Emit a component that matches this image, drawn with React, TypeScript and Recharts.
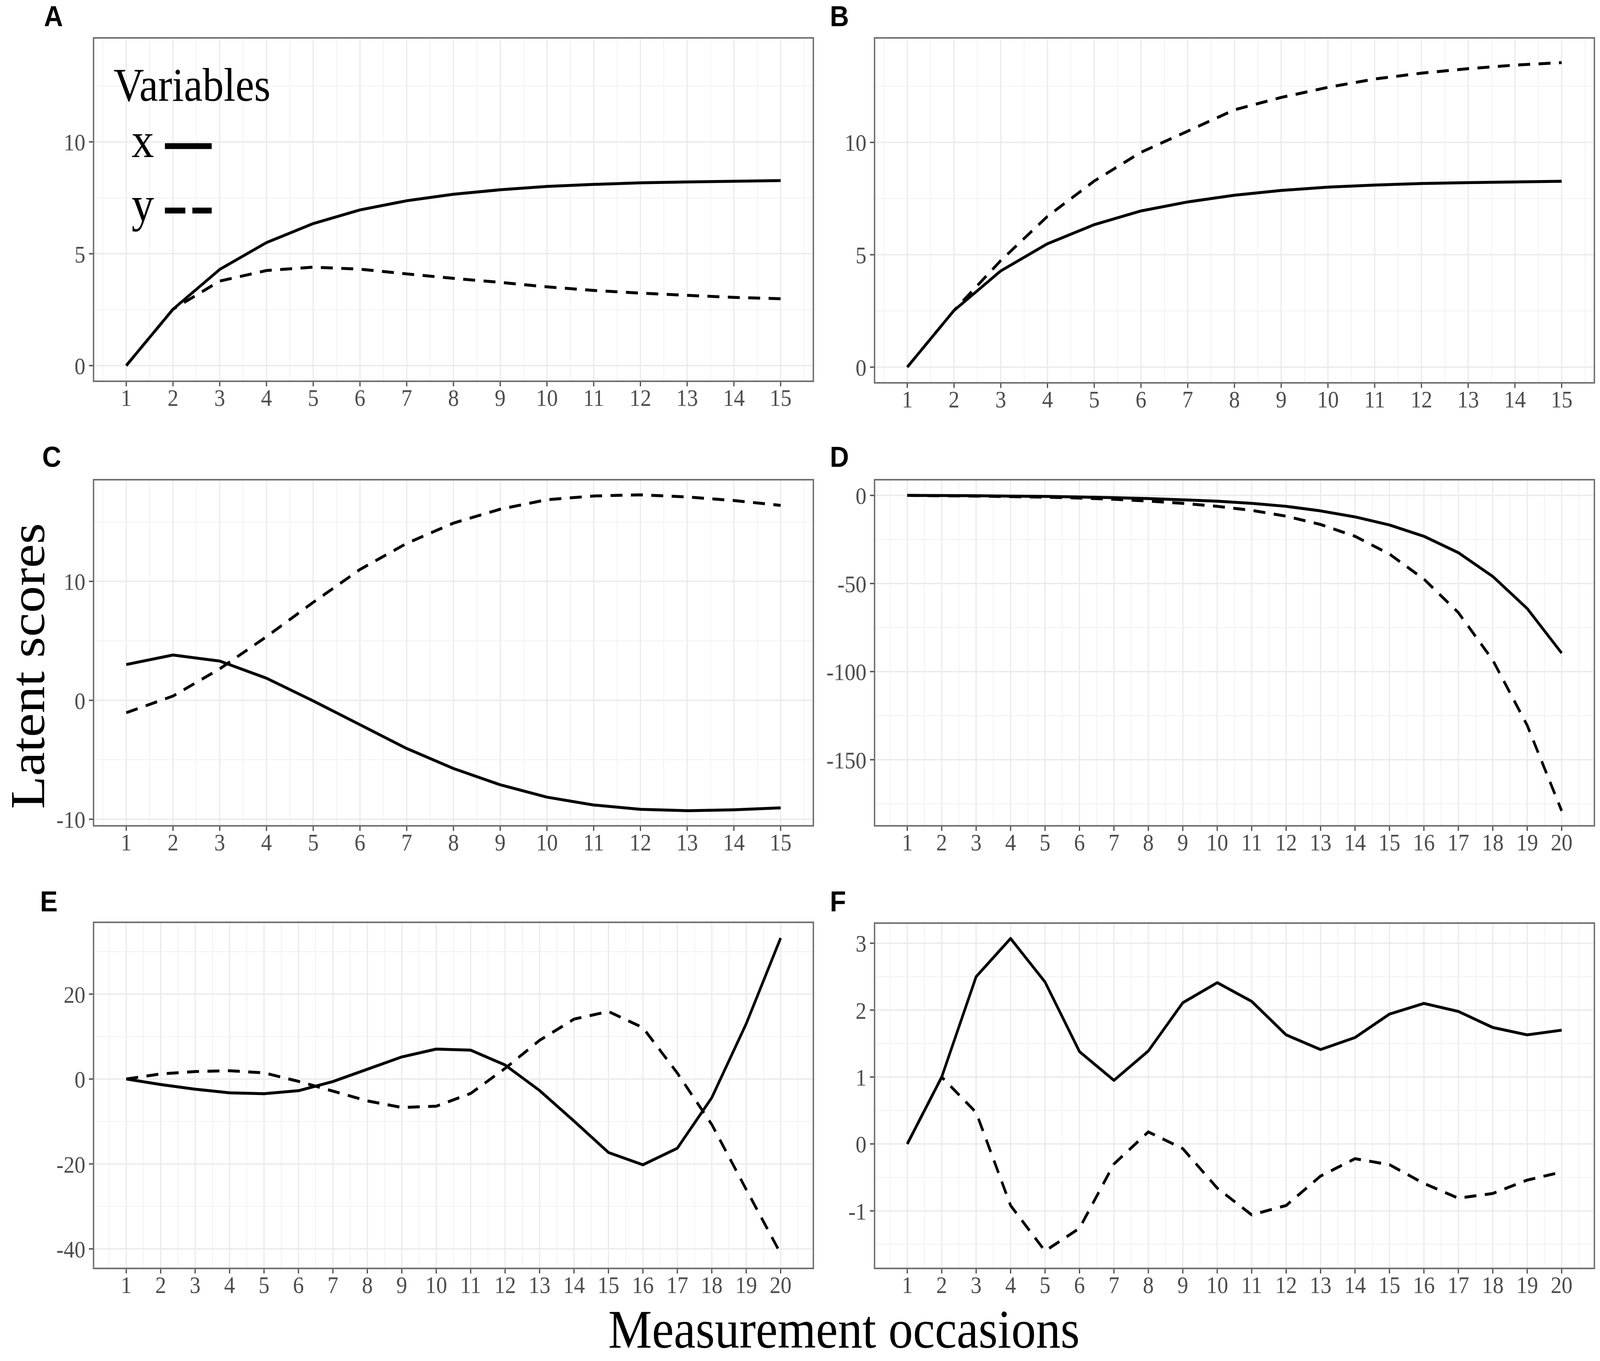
import React from 'react';
import { LineChart, Line, XAxis, YAxis, CartesianGrid, Legend } from 'recharts';

// ---------- data ----------
const occasions15 = [1, 2, 3, 4, 5, 6, 7, 8, 9, 10, 11, 12, 13, 14, 15];
const occasions20 = [1, 2, 3, 4, 5, 6, 7, 8, 9, 10, 11, 12, 13, 14, 15, 16, 17, 18, 19, 20];

const panelA_x = [0, 2.52, 4.3, 5.5, 6.35, 6.96, 7.37, 7.66, 7.86, 8.01, 8.1, 8.17, 8.21, 8.24, 8.27];
const panelA_y = [0, 2.52, 3.78, 4.25, 4.4, 4.31, 4.1, 3.9, 3.72, 3.52, 3.36, 3.24, 3.14, 3.05, 2.99];

const panelB_x = [0, 2.52, 4.28, 5.49, 6.34, 6.95, 7.35, 7.65, 7.86, 8.01, 8.1, 8.17, 8.21, 8.24, 8.27];
const panelB_y = [0, 2.52, 4.74, 6.71, 8.28, 9.56, 10.5, 11.45, 12.0, 12.45, 12.82, 13.08, 13.28, 13.44, 13.55];

const panelC_x = [3.01, 3.81, 3.3, 1.86, -0.05, -2.05, -4.05, -5.73, -7.1, -8.14, -8.8, -9.16, -9.28, -9.2, -9.04];
const panelC_y = [-1.04, 0.36, 2.65, 5.35, 8.24, 11.0, 13.2, 14.9, 16.07, 16.87, 17.18, 17.28, 17.1, 16.8, 16.39];

const panelD_x = [0, -0.1, -0.2, -0.4, -0.6, -0.9, -1.3, -1.8, -2.5, -3.3, -4.5, -6.2, -8.8, -12.2, -16.8, -23.2, -32.5, -46, -64.2, -89.5];
const panelD_y = [0, -0.2, -0.4, -0.7, -1.0, -1.5, -2.2, -3.2, -4.5, -6.2, -8.5, -11.8, -16.5, -23.2, -33.3, -47.5, -66.5, -93.5, -130.5, -179];

const panelE_x = [0, -1.3, -2.4, -3.25, -3.45, -2.75, -0.6, 2.3, 5.2, 7.05, 6.8, 3.3, -2.7, -9.9, -17.3, -20.2, -16.3, -4.4, 13.0, 33.2];
const panelE_y = [0, 1.2, 1.75, 1.95, 1.45, -0.55, -2.85, -5.15, -6.7, -6.4, -3.4, 2.5, 9.1, 14.1, 15.9, 12.1, 1.4, -10.7, -26.0, -41.1];

const panelF_x = [0, 1.0, 2.5, 3.07, 2.42, 1.38, 0.95, 1.39, 2.11, 2.41, 2.13, 1.63, 1.41, 1.59, 1.94, 2.1, 1.98, 1.74, 1.63, 1.7];
const panelF_y = [0, 1.0, 0.47, -0.92, -1.6, -1.26, -0.3, 0.18, -0.07, -0.66, -1.06, -0.92, -0.48, -0.22, -0.31, -0.59, -0.81, -0.74, -0.54, -0.42];

// tick labels / gridline values
const xMajor15 = occasions15;
const xMinor15 = [0.5, 1.5, 2.5, 3.5, 4.5, 5.5, 6.5, 7.5, 8.5, 9.5, 10.5, 11.5, 12.5, 13.5, 14.5, 15.5];
const xMajor20 = occasions20;
const xMinor20 = [0.5, 1.5, 2.5, 3.5, 4.5, 5.5, 6.5, 7.5, 8.5, 9.5, 10.5, 11.5, 12.5, 13.5, 14.5, 15.5, 16.5, 17.5, 18.5, 19.5, 20.5];

const yMajorAB = [0, 5, 10];
const yMinorAB = [2.5, 7.5, 12.5];
const yMajorC = [-10, 0, 10];
const yMinorC = [-5, 5, 15];
const yMajorD = [-150, -100, -50, 0];
const yMinorD = [-175, -125, -75, -25];
const yMajorE = [-40, -20, 0, 20];
const yMinorE = [-30, -10, 10, 30];
const yMajorF = [-1, 0, 1, 2, 3];
const yMinorF = [-1.5, -0.5, 0.5, 1.5, 2.5];

const panelLetters = ['A', 'B', 'C', 'D', 'E', 'F'];
const seriesNames = ['x', 'y'];

function buildRows(t: number[], xs: number[], ys: number[]) {
  return t.map((v, i) => ({ t: v, x: xs[i], y: ys[i] }));
}

// ---------- styling / layout (in reference pixels, 4550 x 3484) ----------
const FIG_W = 4550;
const FIG_H = 3484;
const SERIF = '"Liberation Serif", "Times New Roman", "DejaVu Serif", serif';
const SANS = '"Liberation Sans", Arial, "DejaVu Sans", sans-serif';
const YW = 230;
const TOP = 20;
const RIGHT = 10;
const XH = 110;

type PanelCfg = {
  letter: string;
  px: number; py: number; pw: number; ph: number;
  lx: number; ly: number;
  data: any[];
  xDomain: [number, number];
  xMajor: number[]; xMinor: number[];
  yDomain: [number, number];
  yMajor: number[]; yMinor: number[];
  legend?: boolean;
};

const panels: PanelCfg[] = [
  { letter: panelLetters[0], px: 266, py: 97, pw: 2047, ph: 879, lx: 125, ly: 67,
    data: buildRows(occasions15, panelA_x, panelA_y), xDomain: [0.3, 15.7], xMajor: xMajor15, xMinor: xMinor15,
    yDomain: [-0.7, 14.65], yMajor: yMajorAB, yMinor: yMinorAB, legend: true },
  { letter: panelLetters[1], px: 2487, py: 97, pw: 2047, ph: 883, lx: 2360, ly: 67,
    data: buildRows(occasions15, panelB_x, panelB_y), xDomain: [0.3, 15.7], xMajor: xMajor15, xMinor: xMinor15,
    yDomain: [-0.7, 14.65], yMajor: yMajorAB, yMinor: yMinorAB },
  { letter: panelLetters[2], px: 266, py: 1228, pw: 2047, ph: 886, lx: 120, ly: 1195,
    data: buildRows(occasions15, panelC_x, panelC_y), xDomain: [0.3, 15.7], xMajor: xMajor15, xMinor: xMinor15,
    yDomain: [-10.55, 18.55], yMajor: yMajorC, yMinor: yMinorC },
  { letter: panelLetters[3], px: 2487, py: 1228, pw: 2047, ph: 886, lx: 2360, ly: 1195,
    data: buildRows(occasions20, panelD_x, panelD_y), xDomain: [0.05, 20.95], xMajor: xMajor20, xMinor: xMinor20,
    yDomain: [-187.5, 8.9], yMajor: yMajorD, yMinor: yMinorD },
  { letter: panelLetters[4], px: 266, py: 2361, pw: 2047, ph: 886, lx: 114, ly: 2333,
    data: buildRows(occasions20, panelE_x, panelE_y), xDomain: [0.05, 20.95], xMajor: xMajor20, xMinor: xMinor20,
    yDomain: [-44.6, 36.9], yMajor: yMajorE, yMinor: yMinorE },
  { letter: panelLetters[5], px: 2487, py: 2363, pw: 2047, ph: 884, lx: 2360, ly: 2333,
    data: buildRows(occasions20, panelF_x, panelF_y), xDomain: [0.05, 20.95], xMajor: xMajor20, xMinor: xMinor20,
    yDomain: [-1.86, 3.3], yMajor: yMajorF, yMinor: yMinorF },
];

const XTick = (props: any) => (
  <text x={props.x} y={props.y} dy="0.71em" textAnchor="middle" fontFamily={SERIF} fontSize={62} fill="#4d4d4d">
    {props.payload.value}
  </text>
);

const YTick = (props: any) => (
  <text x={props.x} y={props.y} dy="0.355em" textAnchor="end" fontFamily={SERIF} fontSize={62} fill="#4d4d4d">
    {String(props.payload.value)}
  </text>
);

const LegendContent = (props: any) => {
  const items = (props.payload || []).slice().sort((a: any, b: any) => String(a.value).localeCompare(String(b.value)));
  return (
    <svg width={330} height={460} style={{ overflow: 'visible' }}>
      <text x={13} y={108} fontFamily={SERIF} fontSize={120} fill="#000">Variables</text>
      {items.map((it: any, i: number) => {
        const dash = it?.payload?.strokeDasharray;
        const cy = 224 + i * 165;
        return (
          <g key={String(it.value)}>
            <text x={64} y={252 + i * 164} fontFamily={SERIF} fontSize={128} fill="#000">{it.value}</text>
            <line x1={159} x2={292} y1={cy} y2={cy} stroke="#000" strokeWidth={15}
              strokeDasharray={dash ? '58 20' : undefined} />
          </g>
        );
      })}
    </svg>
  );
};

function Panel({ cfg }: { cfg: PanelCfg }) {
  const left = cfg.px - YW;
  const top = cfg.py - TOP;
  const width = YW + cfg.pw + RIGHT;
  const height = TOP + cfg.ph + XH;
  return (
    <>
      <div style={{ position: 'absolute', left, top, width, height }}>
        <LineChart width={width} height={height} data={cfg.data}
          margin={{ top: TOP, right: RIGHT, bottom: 0, left: 0 }}>
          <CartesianGrid horizontalValues={cfg.yMinor} verticalValues={cfg.xMinor}
            stroke="#f1f1f1" strokeWidth={2} fill="#ffffff" />
          <CartesianGrid horizontalValues={cfg.yMajor} verticalValues={cfg.xMajor}
            stroke="#ebebeb" strokeWidth={3.5} />
          <XAxis dataKey="t" type="number" domain={cfg.xDomain} ticks={cfg.xMajor} interval={0}
            allowDataOverflow axisLine={false} tickSize={13} tickMargin={6} height={XH}
            tickLine={{ stroke: '#4d4d4d', strokeWidth: 3.5 }} tick={<XTick />} />
          <YAxis type="number" domain={cfg.yDomain} ticks={cfg.yMajor} interval={0}
            allowDataOverflow axisLine={false} tickSize={13} tickMargin={10} width={YW}
            tickLine={{ stroke: '#4d4d4d', strokeWidth: 3.5 }} tick={<YTick />} />
          <Line type="linear" dataKey="y" name={seriesNames[1]} stroke="#000" strokeWidth={7.5}
            strokeDasharray="34 24" dot={false} isAnimationActive={false} />
          <Line type="linear" dataKey="x" name={seriesNames[0]} stroke="#000" strokeWidth={7.5}
            dot={false} isAnimationActive={false} strokeLinejoin="round" />
          {cfg.legend ? (
            <Legend layout="horizontal" verticalAlign="middle" align="center"
              content={<LegendContent />}
              wrapperStyle={{ position: 'absolute', left: 274, top: 73, width: 330, height: 460 }} />
          ) : null}
        </LineChart>
      </div>
      <div style={{
        position: 'absolute', left: cfg.px - 2, top: cfg.py - 2, width: cfg.pw + 4, height: cfg.ph + 4,
        border: '4px solid #6f6f6f', boxSizing: 'border-box', pointerEvents: 'none',
      }} />
    </>
  );
}

export default function App() {
  const vw = typeof window !== 'undefined' && window.innerWidth ? window.innerWidth : FIG_W;
  const vh = typeof window !== 'undefined' && window.innerHeight ? window.innerHeight : FIG_H;
  const sx = Math.min(1, vw / FIG_W);
  const sy = Math.min(1, vh / FIG_H);
  return (
    <div style={{ position: 'absolute', left: 0, top: 0, width: vw, height: vh, overflow: 'hidden', background: '#ffffff' }}>
      <div style={{
        position: 'absolute', left: 0, top: 0, width: FIG_W, height: FIG_H, background: '#ffffff',
        transform: `scale(${sx}, ${sy})`, transformOrigin: '0 0',
      }}>
        {panels.map((p) => <Panel key={p.letter} cfg={p} />)}
        <svg width={FIG_W} height={FIG_H} style={{ position: 'absolute', left: 0, top: 0, pointerEvents: 'none' }}>
          {panels.map((p) => (
            <text key={p.letter} x={p.lx} y={p.ly} fontFamily={SANS} fontWeight="bold" fontSize={75} fill="#000">{p.letter}</text>
          ))}
          <text x={0} y={0} transform="translate(126,1705) rotate(-90)" textAnchor="middle"
            fontFamily={SERIF} fontSize={138} fill="#000">Latent scores</text>
          <text x={2400} y={3450} textAnchor="middle" fontFamily={SERIF} fontSize={140} fill="#000">Measurement occasions</text>
        </svg>
      </div>
    </div>
  );
}
